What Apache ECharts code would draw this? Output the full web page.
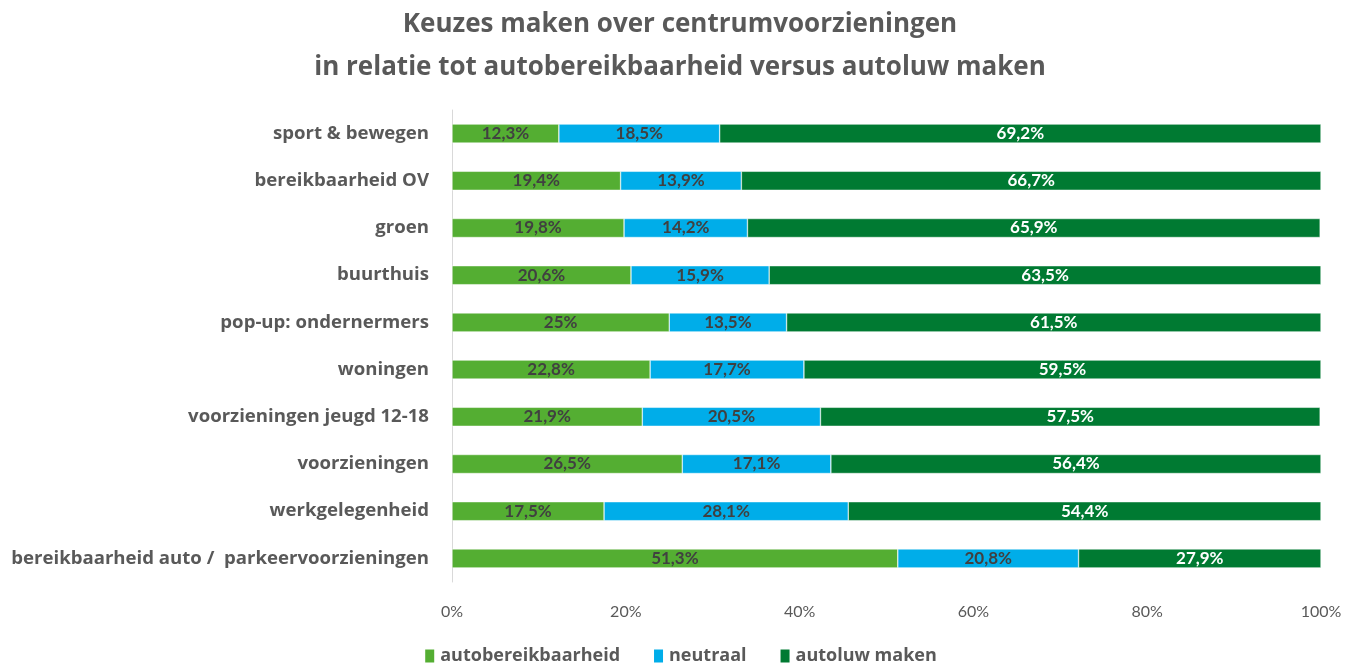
<!DOCTYPE html>
<html>
<head>
<meta charset="UTF-8">
<title>Keuzes maken over centrumvoorzieningen</title>
<script src="https://cdn.jsdelivr.net/npm/echarts@6/dist/echarts.min.js"></script>
<style>
  html, body { margin: 0; padding: 0; background: #fff; }
  #container { width: 1360px; height: 667px; }
</style>
</head>
<body>
<div id="container"></div>
<script>
// categories bottom to top (as the y axis draws them)
var categories = [
    'bereikbaarheid auto /  parkeervoorzieningen',
    'werkgelegenheid',
    'voorzieningen',
    'voorzieningen jeugd 12-18',
    'woningen',
    'pop-up: ondernermers',
    'buurthuis',
    'groen',
    'bereikbaarheid OV',
    'sport & bewegen'
];
var autoBereik = [51.3, 17.5, 26.5, 21.9, 22.8, 25, 20.6, 19.8, 19.4, 12.3];
var neutraal   = [20.8, 28.1, 17.1, 20.5, 17.7, 13.5, 15.9, 14.2, 13.9, 18.5];
var autoluw    = [27.9, 54.4, 56.4, 57.5, 59.5, 61.5, 63.5, 65.9, 66.7, 69.2];
var xTicks = [0, 20, 40, 60, 80, 100];

var FONT = 'Lato';
var WIDE = 'Open Sans';

function pct(v) {
    return String(v).replace('.', ',') + '%';
}

function makeSeries(name, data, color, labelColor) {
    return {
        name: name,
        type: 'bar',
        stack: 'total',
        barWidth: 19,
        data: data,
        itemStyle: { color: color, borderColor: '#ffffff', borderWidth: 0.5 },
        label: {
            show: true,
            position: 'inside',
            color: labelColor,
            fontFamily: FONT,
            fontWeight: 'bold',
            fontSize: 17,
            formatter: function (p) { return pct(p.value); }
        }
    };
}

var myChart = echarts.init(document.getElementById('container'));

var option = {
    animation: false,
    title: {
        text: 'Keuzes maken over centrumvoorzieningen\nin relatie tot autobereikbaarheid versus autoluw maken',
        left: 'center',
        top: -2,
        textStyle: {
            fontFamily: WIDE,
            fontWeight: 'bold',
            fontSize: 26,
            color: '#595959',
            lineHeight: 43
        }
    },
    legend: {
        bottom: -3,
        left: 'center',
        itemWidth: 11,
        itemHeight: 15,
        itemGap: 32,
        icon: 'rect',
        textStyle: {
            fontFamily: WIDE,
            fontWeight: 'bold',
            fontSize: 18,
            color: '#595959'
        },
        data: ['autobereikbaarheid', 'neutraal', 'autoluw maken']
    },
    grid: {
        left: 452,
        right: 39,
        top: 110,
        bottom: 85
    },
    xAxis: {
        type: 'value',
        min: 0,
        max: 100,
        interval: 20,
        axisLine: { show: false },
        axisTick: { show: false },
        splitLine: { show: false },
        axisLabel: {
            margin: 22,
            fontFamily: FONT,
            fontSize: 16,
            color: '#595959',
            formatter: function (v) { return xTicks.indexOf(v) >= 0 ? v + '%' : ''; }
        }
    },
    yAxis: {
        type: 'category',
        data: categories,
        axisLine: { show: true, lineStyle: { color: '#d9d9d9', width: 1 } },
        axisTick: { show: false },
        axisLabel: {
            margin: 23,
            fontFamily: WIDE,
            fontWeight: 'bold',
            fontSize: 18.6,
            color: '#595959'
        }
    },
    series: [
        makeSeries('autobereikbaarheid', autoBereik, '#54ae32', '#404040'),
        makeSeries('neutraal', neutraal, '#00ade9', '#404040'),
        makeSeries('autoluw maken', autoluw, '#007a32', '#ffffff')
    ]
};

myChart.setOption(option);
</script>
</body>
</html>
